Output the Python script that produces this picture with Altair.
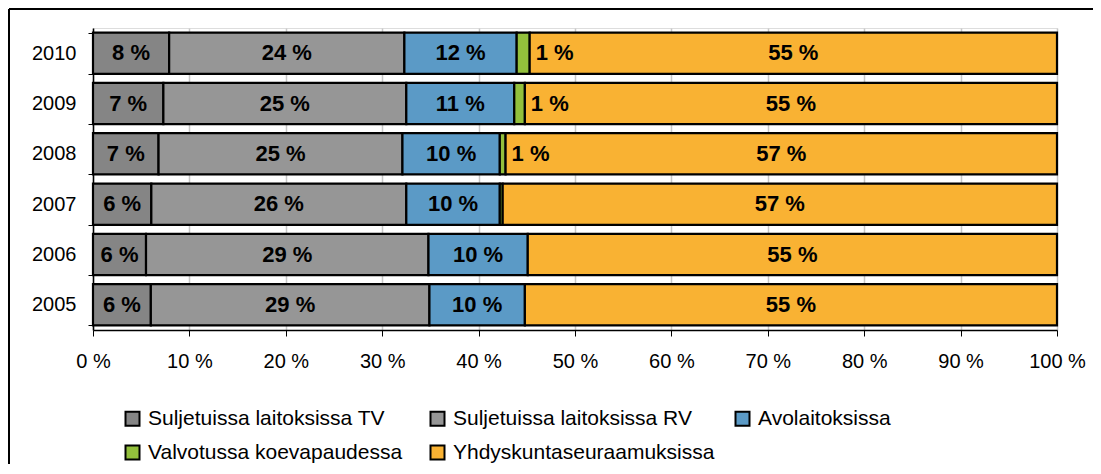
import altair as alt
import pandas as pd

years = ["2010", "2009", "2008", "2007", "2006", "2005"]
series = ["Suljetuissa laitoksissa TV", "Suljetuissa laitoksissa RV", "Avolaitoksissa",
          "Valvotussa koevapaudessa", "Yhdyskuntaseuraamuksissa"]
colors = ["#858585", "#969696", "#5b9ac6", "#93c03c", "#f9b233"]

tv = [7.9, 7.3, 6.8, 6.05, 5.5, 6.0]
rv = [24.4, 25.2, 25.3, 26.45, 29.3, 28.9]
avo = [11.65, 11.2, 10.1, 9.7, 10.3, 9.9]
valv = [1.35, 1.1, 0.6, 0.3, 0.0, 0.0]
yhd = [54.7, 55.2, 57.2, 57.5, 54.9, 55.2]

lab_tv = ["8 %", "7 %", "7 %", "6 %", "6 %", "6 %"]
lab_rv = ["24 %", "25 %", "25 %", "26 %", "29 %", "29 %"]
lab_avo = ["12 %", "11 %", "10 %", "10 %", "10 %", "10 %"]
lab_valv = ["1 %", "1 %", "1 %", "", "", ""]
lab_yhd = ["55 %", "55 %", "57 %", "57 %", "55 %", "55 %"]

tick_values = [0, 10, 20, 30, 40, 50, 60, 70, 80, 90, 100]

rows = []
vals = [tv, rv, avo, valv, yhd]
labs = [lab_tv, lab_rv, lab_avo, lab_valv, lab_yhd]
for i, y in enumerate(years):
    cum = 0.0
    for s, v, l in zip(series, vals, labs):
        start, end = cum, cum + v[i]
        cum = end
        if v[i] <= 0:
            continue
        rows.append({"year": y, "series": s, "start": start, "end": end,
                     "mid": (start + end) / 2, "label": l[i],
                     "side": s == "Valvotussa koevapaudessa"})
df = pd.DataFrame(rows)

FONT = "Liberation Sans"
W, H = 964, 302

yenc = alt.Y("year:N", sort=years, title=None,
             scale=alt.Scale(paddingInner=0.18, paddingOuter=0.09),
             axis=alt.Axis(tickBand="extent", labelFontSize=20, labelFont=FONT,
                           labelColor="black", tickColor="black", tickSize=5,
                           labelPadding=12, domainColor="black", domainWidth=1.5,
                           grid=False))

bars = alt.Chart(df).mark_bar(stroke="black", strokeWidth=2.2).encode(
    x=alt.X("start:Q", title=None,
            scale=alt.Scale(domain=[0, 100], nice=False),
            axis=alt.Axis(values=tick_values, labelExpr="datum.value + ' %'",
                          labelFontSize=20, labelFont=FONT, labelColor="black",
                          labelFlush=False, labelOverlap=False,
                          tickColor="black", tickSize=6, labelPadding=15,
                          domainColor="black", domainWidth=1.5,
                          grid=True, gridColor="#c8c8c8", gridWidth=1.5)),
    x2="end:Q",
    y=yenc,
    color=alt.Color("series:N", scale=alt.Scale(domain=series, range=colors),
                    legend=alt.Legend(title=None, orient="none", legendX=29, legendY=380,
                                      direction="horizontal",
                                      columns=3, gridAlign="all", columnPadding=16,
                                      rowPadding=11, symbolType="square", symbolSize=196,
                                      symbolStrokeColor="black", symbolStrokeWidth=2,
                                      symbolOffset=0, labelOffset=5,
                                      labelFontSize=21, labelFont=FONT,
                                      labelColor="black", labelLimit=400)),
)

center_text = alt.Chart(df).transform_filter("!datum.side").mark_text(
    font=FONT, fontSize=22, fontWeight="bold", color="black", baseline="middle"
).encode(x="mid:Q", y=alt.Y("year:N", sort=years), text="label:N")

side_text = alt.Chart(df).transform_filter("datum.side && datum.label != ''").mark_text(
    font=FONT, fontSize=22, fontWeight="bold", color="black", baseline="middle",
    align="left", dx=6
).encode(x="end:Q", y=alt.Y("year:N", sort=years), text="label:N")

frame_top = alt.Chart(df).mark_rule(color="black", strokeWidth=1.5).encode(
    x=alt.value(-84), x2=alt.value(W + 60), y=alt.value(-19), y2=alt.value(-19))
frame_left = alt.Chart(df).mark_rule(color="black", strokeWidth=1.5).encode(
    x=alt.value(-84), x2=alt.value(-84), y=alt.value(-19), y2=alt.value(H + 170))

chart = alt.layer(bars, center_text, side_text, frame_top, frame_left).properties(
    width=W, height=H,
    autosize=alt.AutoSizeParams(type="none"),
    padding={"left": 85, "top": 20, "right": 36, "bottom": 134},
).configure_view(stroke="#a6a6a6", strokeWidth=2).configure(background="white")

chart.save("out.html", embed_options={"renderer": "svg", "actions": False})
